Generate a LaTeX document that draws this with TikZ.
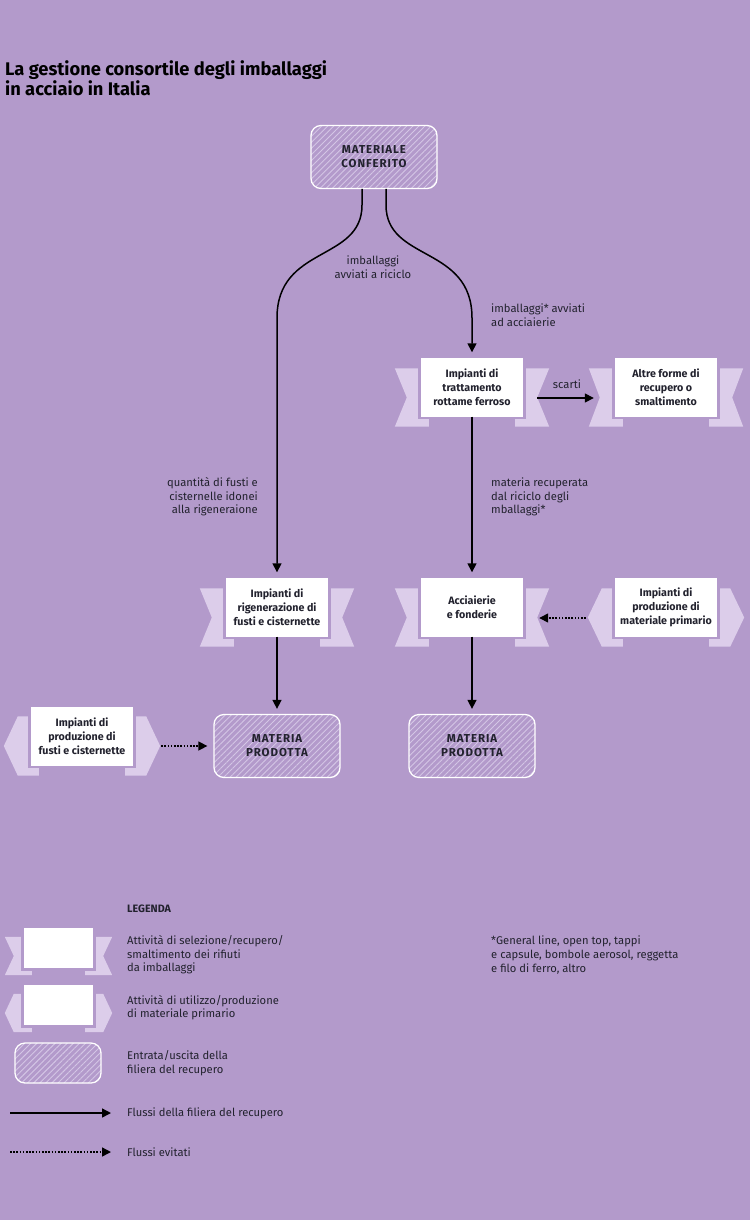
\documentclass[tikz,border=0pt]{standalone}
\usepackage{fontspec}
\setmainfont{Fira Sans}
\usetikzlibrary{arrows.meta,patterns.meta,calc}
\definecolor{bg}{HTML}{B39ACB}
\definecolor{rib}{HTML}{DCCDEA}
\definecolor{hatchc}{HTML}{D4C6E5}
\definecolor{txt}{HTML}{22222E}
\pgfdeclarelayer{bgl}
\pgfsetlayers{bgl,main}
% notched tails: #1 node, #2 outer offset, #3 notch depth, #4 top drop, #5 bottom drop
\newcommand\tailsA[5]{%
  \begin{pgfonlayer}{bgl}
  \path[fill=rib] let \p1=(#1.north west), \p2=(#1.south east) in
    (\x1-#2,\y1-#4) -- (\x1+8pt,\y1-#4) -- (\x1+8pt,\y2-#5) -- (\x1-#2,\y2-#5)
    -- (\x1-#2+#3,{0.5*(\y1-#4+\y2-#5)}) -- cycle
    (\x2+#2,\y1-#4) -- (\x2-8pt,\y1-#4) -- (\x2-8pt,\y2-#5) -- (\x2+#2,\y2-#5)
    -- (\x2+#2-#3,{0.5*(\y1-#4+\y2-#5)}) -- cycle;
  \fill[bg] ([shift={(-2.5pt,2.5pt)}]#1.north west) rectangle ([shift={(2.5pt,-2.5pt)}]#1.south east);
  \end{pgfonlayer}}
% pointed tails: #1 node, #2 corner offset, #3 tip offset, #4 top drop, #5 bottom drop
\newcommand\tailsB[5]{%
  \begin{pgfonlayer}{bgl}
  \path[fill=rib] let \p1=(#1.north west), \p2=(#1.south east) in
    (\x1+8pt,\y1-#4) -- (\x1-#2,\y1-#4) -- (\x1-#3,{0.5*(\y1-#4+\y2-#5)}) -- (\x1-#2,\y2-#5) -- (\x1+8pt,\y2-#5) -- cycle
    (\x2-8pt,\y1-#4) -- (\x2+#2,\y1-#4) -- (\x2+#3,{0.5*(\y1-#4+\y2-#5)}) -- (\x2+#2,\y2-#5) -- (\x2-8pt,\y2-#5) -- cycle;
  \fill[bg] ([shift={(-2.5pt,2.5pt)}]#1.north west) rectangle ([shift={(2.5pt,-2.5pt)}]#1.south east);
  \end{pgfonlayer}}
\tikzset{
  wbox/.style={fill=white, minimum width=102pt, minimum height=59pt, inner sep=0pt, align=center,
    font=\fontsize{10.7}{14}\selectfont\bfseries, text=txt},
  hbox/.style={draw=white, line width=1.3pt, rounded corners=10pt,
    pattern={Lines[angle=45,distance=4.3pt,line width=0.9pt]}, pattern color=hatchc,
    minimum width=126pt, minimum height=63pt, inner sep=0pt, align=center,
    font=\fontsize{11.5}{14}\selectfont\bfseries\addfontfeature{LetterSpace=8}, text=txt},
  lbl/.style={font=\fontsize{11.2}{13.6}\selectfont, text=txt, inner sep=0pt},
  flow/.style={line width=1.5pt, -{Triangle[length=9pt,width=9pt]}},
  avoided/.style={line width=1.5pt, dash pattern=on 1.6pt off 1.6pt, -{Triangle[length=9pt,width=9pt]}},
}
\begin{document}
\begin{tikzpicture}[x=1pt,y=-1pt]
\begin{pgfonlayer}{bgl}
\fill[bg] (0,0) rectangle (750,1220);
\end{pgfonlayer}
\useasboundingbox (0,0) rectangle (750,1220);

% title
\node[anchor=north west, align=left, inner sep=0pt, text=black,
  font=\fontsize{18.3}{20.5}\selectfont\bfseries] (title) at (5,60)
  {La gestione consortile degli imballaggi\\in acciaio in Italia};

% nodes
\node[hbox] (mat) at (374,157) {MATERIALE\\CONFERITO};
\node[wbox] (tratt) at (472,387) {Impianti di\\trattamento\\rottame ferroso};
\node[wbox] (altre) at (666,387) {Altre forme di\\recupero o\\smaltimento};
\node[wbox] (rigen) at (277,607) {Impianti di\\rigenerazione di\\fusti e cisternette};
\node[wbox] (acc) at (472,607) {Acciaierie\\e fonderie};
\node[wbox] (prim) at (666,607) {Impianti di\\produzione di\\materiale primario};
\node[wbox] (pfus) at (82,736) {Impianti di\\produzione di\\fusti e cisternette};
\node[hbox] (mp1) at (277,746) {MATERIA\\PRODOTTA};
\node[hbox] (mp2) at (472,746) {MATERIA\\PRODOTTA};

\tailsA{tratt}{26pt}{12pt}{11pt}{10pt}
\tailsA{altre}{26pt}{11pt}{11pt}{10pt}
\tailsA{rigen}{26pt}{12pt}{11pt}{10pt}
\tailsA{acc}{26pt}{12pt}{11pt}{10pt}
\tailsB{prim}{13pt}{27pt}{11pt}{10pt}
\tailsB{pfus}{13pt}{27pt}{10pt}{10pt}

% connectors
\draw[flow] ([xshift=-12pt]mat.south) -- (362,205) .. controls (362,262) and (277,245) .. (277,318)
  -- ([yshift=5pt]rigen.north);
\draw[flow] ([xshift=12pt]mat.south) -- (386,205) .. controls (386,262) and (472,245) .. (472,318)
  -- ([yshift=5pt]tratt.north);
\draw[flow] (tratt.south) -- ([yshift=5pt]acc.north);
\draw[flow] ([shift={(14pt,-11pt)}]tratt.east) -- ([shift={(-21pt,-11pt)}]altre.west);
\draw[flow] (rigen.south) -- ([yshift=5pt]mp1.north);
\draw[flow] (acc.south) -- ([yshift=5pt]mp2.north);
\draw[avoided] ([shift={(-29pt,-11pt)}]prim.west) -- ([shift={(16pt,-11pt)}]acc.east);
\draw[avoided] ([shift={(28pt,-10pt)}]pfus.east) -- ([xshift=-6pt]mp1.west);

% labels
\node[lbl, align=center] (l1) at (373,267) {imballaggi\\avviati a riciclo};
\node[lbl, align=left, anchor=west] (l2) at (491,315) {imballaggi* avviati\\ad acciaierie};
\node[lbl] (l3) at (567,384) {scarti};
\node[lbl, align=right, anchor=east] (l4) at (258,497) {quantità di fusti e\\cisternelle idonei\\alla rigeneraione};
\node[lbl, align=left, anchor=west] (l5) at (491,497) {materia recuperata\\dal riciclo degli\\mballaggi*};

% legend
\node[lbl, anchor=west, font=\fontsize{10.7}{13.5}\selectfont\bfseries] (leg) at (127,909) {LEGENDA};
\node[wbox, minimum width=69pt, minimum height=40pt] (lga) at (58.5,948) {};
\node[wbox, minimum width=69pt, minimum height=40pt] (lgb) at (58.5,1005) {};
\tailsA{lga}{19pt}{9pt}{9pt}{7pt}
\tailsB{lgb}{10pt}{19pt}{9pt}{7pt}
\node[hbox, minimum width=86pt, minimum height=40pt] (lgc) at (58,1063) {};
\node[lbl, align=left, anchor=west] (t1) at (127,955) {Attività di selezione/recupero/\\smaltimento dei rifiuti\\da imballaggi};
\node[lbl, align=left, anchor=west] (t2) at (127,1007.5) {Attività di utilizzo/produzione\\di materiale primario};
\node[lbl, align=left, anchor=west] (t3) at (127,1063) {Entrata/uscita della\\filiera del recupero};
\coordinate (s1) at (10,1113);
\coordinate (e1) at (111,1113);
\coordinate (s2) at (10,1152);
\coordinate (e2) at (111,1152);
\draw[flow] (s1) -- (e1);
\draw[avoided] (s2) -- (e2);
\node[lbl, anchor=west] (t4) at (127,1113) {Flussi della filiera del recupero};
\node[lbl, anchor=west] (t5) at (127,1152) {Flussi evitati};
\node[lbl, align=left, anchor=west] (fn) at (491,955) {*General line, open top, tappi\\e capsule, bombole aerosol, reggetta\\e filo di ferro, altro};
\end{tikzpicture}
\end{document}
